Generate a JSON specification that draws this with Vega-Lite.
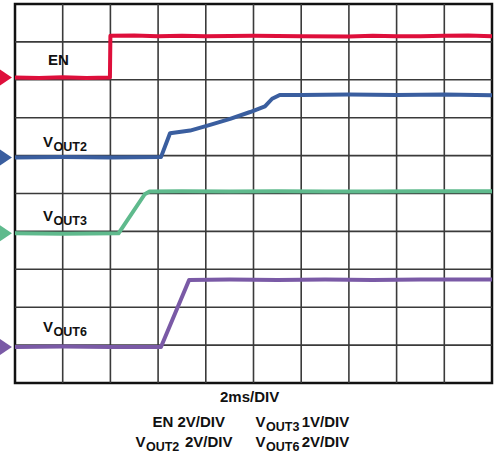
{
  "$schema": "https://vega.github.io/schema/vega-lite/v6.json",
  "width": 477,
  "height": 379,
  "autosize": {"type": "none"},
  "padding": {"left": 15, "top": 4, "right": 3, "bottom": 73},
  "background": "white",
  "config": {
    "view": {"stroke": "#111111", "strokeWidth": 2.5},
    "text": {"font": "Liberation Sans", "fontWeight": "bold", "color": "#111111"}
  },
  "datasets": {
    "vgrid": [{"t": 1}, {"t": 2}, {"t": 3}, {"t": 4}, {"t": 5}, {"t": 6}, {"t": 7}, {"t": 8}, {"t": 9}],
    "hgrid": [{"v": 1}, {"v": 2}, {"v": 3}, {"v": 4}, {"v": 5}, {"v": 6}, {"v": 7}, {"v": 8}, {"v": 9}],
    "traces": [
      {"ch": "EN", "t": 0, "v": 8.06}, {"ch": "EN", "t": 0.5, "v": 8.05}, {"ch": "EN", "t": 1.0, "v": 8.07}, {"ch": "EN", "t": 1.5, "v": 8.05}, {"ch": "EN", "t": 1.99, "v": 8.06},
      {"ch": "EN", "t": 2.0, "v": 9.16}, {"ch": "EN", "t": 2.5, "v": 9.17}, {"ch": "EN", "t": 3.0, "v": 9.15}, {"ch": "EN", "t": 3.5, "v": 9.16}, {"ch": "EN", "t": 4.0, "v": 9.15},
      {"ch": "EN", "t": 5.0, "v": 9.16}, {"ch": "EN", "t": 6.0, "v": 9.15}, {"ch": "EN", "t": 7.0, "v": 9.14}, {"ch": "EN", "t": 7.5, "v": 9.16}, {"ch": "EN", "t": 8.0, "v": 9.15},
      {"ch": "EN", "t": 8.5, "v": 9.15}, {"ch": "EN", "t": 9.0, "v": 9.16}, {"ch": "EN", "t": 9.5, "v": 9.17}, {"ch": "EN", "t": 10.0, "v": 9.15},
      {"ch": "VOUT2", "t": 0, "v": 5.95}, {"ch": "VOUT2", "t": 1.0, "v": 5.96}, {"ch": "VOUT2", "t": 2.0, "v": 5.95}, {"ch": "VOUT2", "t": 3.06, "v": 5.96},
      {"ch": "VOUT2", "t": 3.25, "v": 6.59}, {"ch": "VOUT2", "t": 3.67, "v": 6.66}, {"ch": "VOUT2", "t": 4.09, "v": 6.81}, {"ch": "VOUT2", "t": 4.51, "v": 6.97},
      {"ch": "VOUT2", "t": 4.93, "v": 7.15}, {"ch": "VOUT2", "t": 5.24, "v": 7.30}, {"ch": "VOUT2", "t": 5.39, "v": 7.50}, {"ch": "VOUT2", "t": 5.55, "v": 7.60},
      {"ch": "VOUT2", "t": 6.0, "v": 7.60}, {"ch": "VOUT2", "t": 7.0, "v": 7.61}, {"ch": "VOUT2", "t": 8.0, "v": 7.60}, {"ch": "VOUT2", "t": 9.0, "v": 7.61}, {"ch": "VOUT2", "t": 10.0, "v": 7.59},
      {"ch": "VOUT3", "t": 0, "v": 3.95}, {"ch": "VOUT3", "t": 1.0, "v": 3.94}, {"ch": "VOUT3", "t": 2.17, "v": 3.95}, {"ch": "VOUT3", "t": 2.72, "v": 4.98},
      {"ch": "VOUT3", "t": 2.82, "v": 5.05}, {"ch": "VOUT3", "t": 3.5, "v": 5.06}, {"ch": "VOUT3", "t": 4.5, "v": 5.05}, {"ch": "VOUT3", "t": 5.5, "v": 5.06},
      {"ch": "VOUT3", "t": 6.5, "v": 5.05}, {"ch": "VOUT3", "t": 7.5, "v": 5.05}, {"ch": "VOUT3", "t": 8.5, "v": 5.06}, {"ch": "VOUT3", "t": 10.0, "v": 5.06},
      {"ch": "VOUT6", "t": 0, "v": 0.95}, {"ch": "VOUT6", "t": 1.0, "v": 0.96}, {"ch": "VOUT6", "t": 2.0, "v": 0.95}, {"ch": "VOUT6", "t": 3.06, "v": 0.95},
      {"ch": "VOUT6", "t": 3.65, "v": 2.72}, {"ch": "VOUT6", "t": 4.5, "v": 2.73}, {"ch": "VOUT6", "t": 5.5, "v": 2.72}, {"ch": "VOUT6", "t": 6.5, "v": 2.73},
      {"ch": "VOUT6", "t": 7.5, "v": 2.72}, {"ch": "VOUT6", "t": 8.5, "v": 2.73}, {"ch": "VOUT6", "t": 10.0, "v": 2.73}
    ],
    "markers": [
      {"ch": "EN", "t": -0.19, "v": 8.06},
      {"ch": "VOUT2", "t": -0.19, "v": 5.95},
      {"ch": "VOUT3", "t": -0.19, "v": 3.95},
      {"ch": "VOUT6", "t": -0.19, "v": 0.95}
    ],
    "mainText": [
      {"label": "EN", "t": 0.692, "v": 8.40},
      {"label": "V", "t": 0.587, "v": 6.235},
      {"label": "V", "t": 0.587, "v": 4.28},
      {"label": "V", "t": 0.587, "v": 1.354},
      {"label": "2ms/DIV", "t": 4.298, "v": -0.493},
      {"label": "EN 2V/DIV", "t": 2.883, "v": -1.153},
      {"label": "V", "t": 2.526, "v": -1.681},
      {"label": "2V/DIV", "t": 3.564, "v": -1.681},
      {"label": "V", "t": 5.042, "v": -1.153},
      {"label": "1V/DIV", "t": 6.010, "v": -1.153},
      {"label": "V", "t": 5.042, "v": -1.681},
      {"label": "2V/DIV", "t": 6.010, "v": -1.681}
    ],
    "subText": [
      {"label": "OUT2", "t": 0.807, "v": 6.13},
      {"label": "OUT3", "t": 0.807, "v": 4.18},
      {"label": "OUT6", "t": 0.807, "v": 1.248},
      {"label": "OUT2", "t": 2.746, "v": -1.786},
      {"label": "OUT3", "t": 5.262, "v": -1.259},
      {"label": "OUT6", "t": 5.262, "v": -1.786}
    ]
  },
  "layer": [
    {
      "data": {"name": "vgrid"},
      "mark": {"type": "rule", "color": "#3a3a3a", "strokeWidth": 1.6},
      "encoding": {
        "x": {"field": "t", "type": "quantitative", "scale": {"domain": [0, 10], "nice": false, "zero": false}, "axis": null}
      }
    },
    {
      "data": {"name": "hgrid"},
      "mark": {"type": "rule", "color": "#3a3a3a", "strokeWidth": 1.6},
      "encoding": {
        "y": {"field": "v", "type": "quantitative", "scale": {"domain": [0, 10], "nice": false, "zero": false}, "axis": null}
      }
    },
    {
      "data": {"name": "traces"},
      "mark": {"type": "line", "strokeWidth": 4, "interpolate": "linear", "strokeJoin": "round"},
      "encoding": {
        "x": {"field": "t", "type": "quantitative", "axis": null},
        "y": {"field": "v", "type": "quantitative", "axis": null},
        "color": {"field": "ch", "type": "nominal", "legend": null, "scale": {"domain": ["EN", "VOUT2", "VOUT3", "VOUT6"], "range": ["#de0f3b", "#3a5e9f", "#5fba8d", "#7a5aa6"]}}
      }
    },
    {
      "data": {"name": "markers"},
      "mark": {"type": "point", "filled": true, "opacity": 1, "shape": "M-0.75,-1L0.75,0L-0.75,1Z", "size": 256, "clip": false},
      "encoding": {
        "x": {"field": "t", "type": "quantitative", "axis": null},
        "y": {"field": "v", "type": "quantitative", "axis": null},
        "color": {"field": "ch", "type": "nominal", "legend": null}
      }
    },
    {
      "data": {"name": "mainText"},
      "mark": {"type": "text", "align": "left", "baseline": "alphabetic", "fontSize": 15},
      "encoding": {
        "x": {"field": "t", "type": "quantitative", "axis": null},
        "y": {"field": "v", "type": "quantitative", "axis": null},
        "text": {"field": "label"}
      }
    },
    {
      "data": {"name": "subText"},
      "mark": {"type": "text", "align": "left", "baseline": "alphabetic", "fontSize": 12.5},
      "encoding": {
        "x": {"field": "t", "type": "quantitative", "axis": null},
        "y": {"field": "v", "type": "quantitative", "axis": null},
        "text": {"field": "label"}
      }
    }
  ]
}
